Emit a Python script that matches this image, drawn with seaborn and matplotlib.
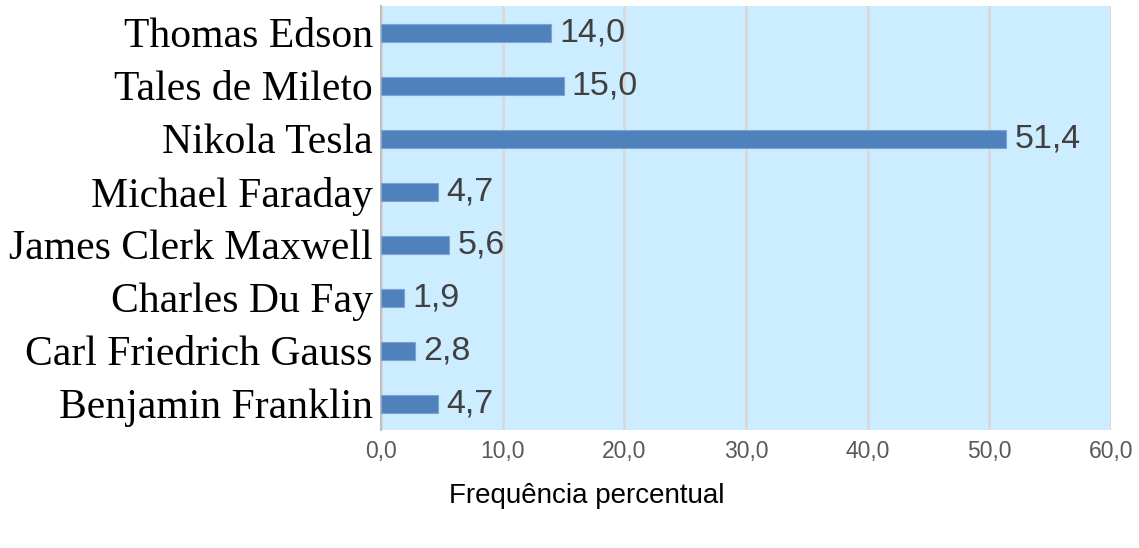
import matplotlib
matplotlib.use("Agg")
import matplotlib.pyplot as plt
import seaborn as sns
import pandas as pd

# dados
cientistas = ["Thomas Edson", "Tales de Mileto", "Nikola Tesla", "Michael Faraday",
              "James Clerk Maxwell", "Charles Du Fay", "Carl Friedrich Gauss",
              "Benjamin Franklin"]
frequencia = [14.0, 15.0, 51.4, 4.7, 5.6, 1.9, 2.8, 4.7]
ticks_x = [0, 10, 20, 30, 40, 50, 60]

df = pd.DataFrame({"cientista": cientistas, "freq": frequencia})

sns.set_style("white")

fig = plt.figure(figsize=(11.39, 5.48), dpi=100)
ax = fig.add_axes([0.3345, 0.2153, 0.641, 0.7737])
ax.set_facecolor("#CCECFF")

sns.barplot(data=df, x="freq", y="cientista", orient="h", color="#4F81BD",
            saturation=1, width=0.34, edgecolor="#7FA3CF", linewidth=0.8, ax=ax,
            zorder=3)

ax.set_xlim(0, 60)
ax.set_xticks(ticks_x)
ax.set_xticklabels([f"{t:.1f}".replace(".", ",") for t in ticks_x],
                   fontsize=16.5, color="#595959", family="Liberation Sans")
ax.grid(axis="x", color="#D9D9D9", linewidth=2, zorder=0)
ax.set_axisbelow(True)

for lbl in ax.get_yticklabels():
    lbl.set_fontfamily("Liberation Serif")
    lbl.set_fontsize(30)
    lbl.set_color("black")

ax.tick_params(axis="both", length=0)
ax.tick_params(axis="x", pad=7)
ax.tick_params(axis="y", pad=6)

for s in ["top", "right", "bottom"]:
    ax.spines[s].set_visible(False)
ax.spines["left"].set_color("#BFBFBF")
ax.spines["left"].set_linewidth(1.5)

ax.bar_label(ax.containers[0],
             labels=[f"{v:.1f}".replace(".", ",") for v in frequencia],
             padding=6, fontsize=24.5, color="#404040", family="Liberation Sans")

ax.set_ylabel("")
ax.set_xlabel("Frequência percentual", fontsize=20, color="black",
              family="Liberation Sans")
ax.xaxis.set_label_coords(0.282, -0.125)

fig.savefig("out.png", dpi=100)
